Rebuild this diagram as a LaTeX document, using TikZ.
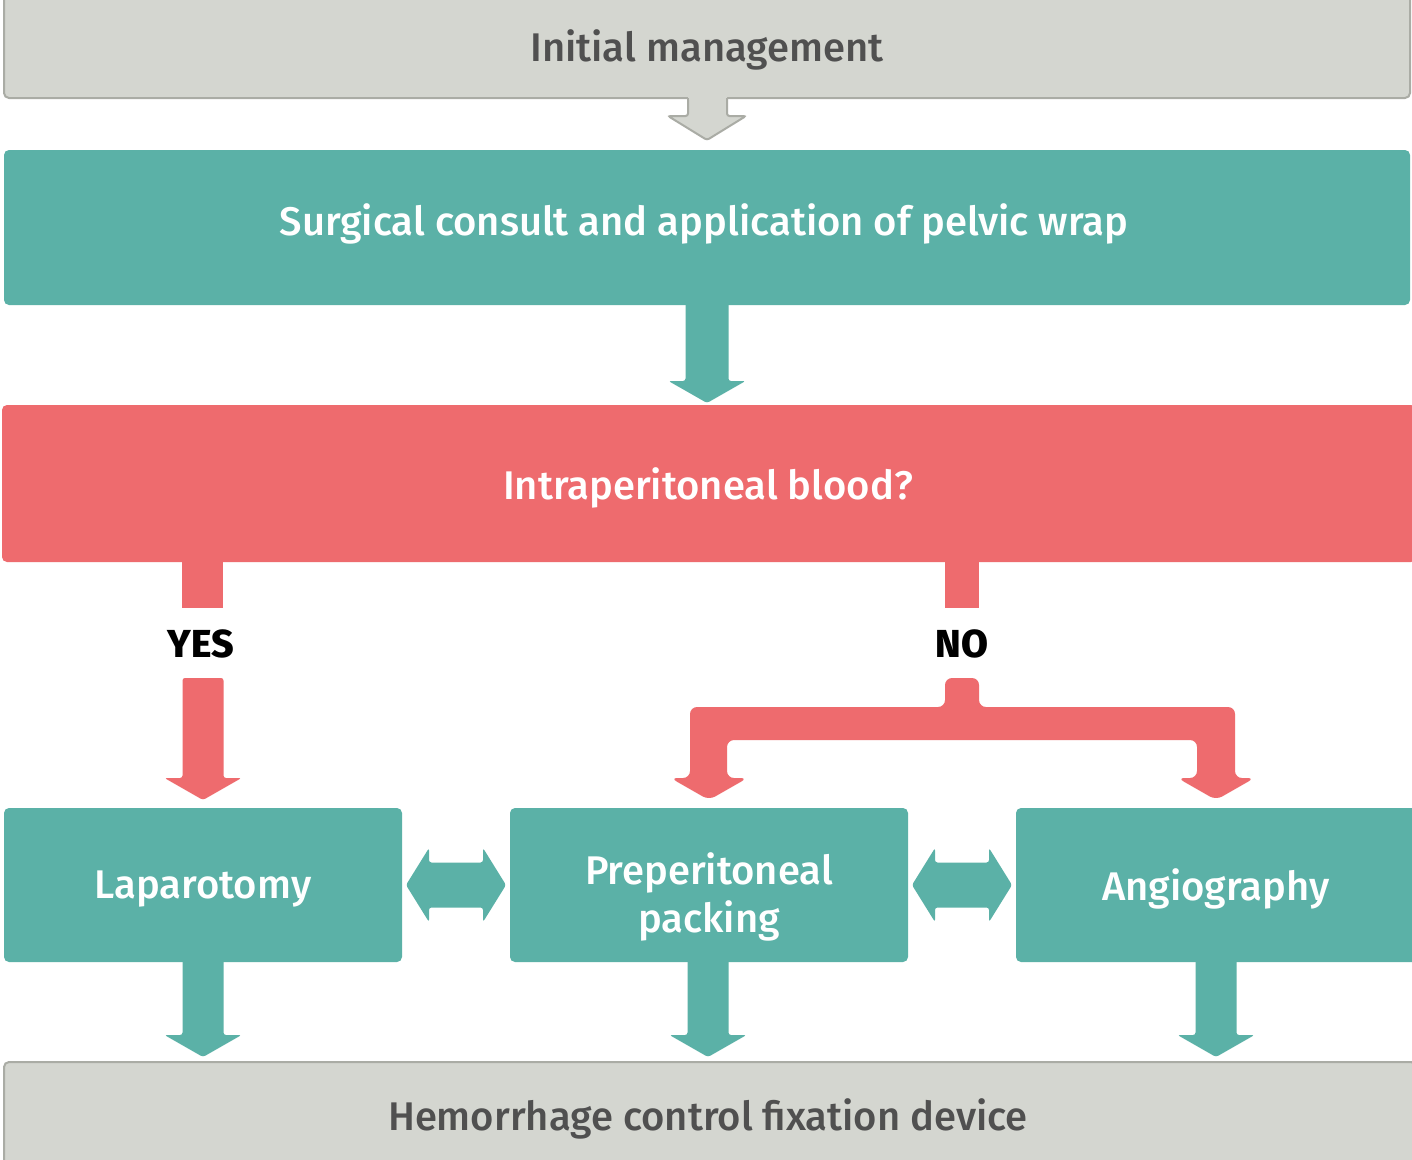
\documentclass[tikz,border=0pt]{standalone}
\usepackage{fontspec}
\setmainfont{Fira Sans}[UprightFont={* Medium}]
\definecolor{cteal}{HTML}{5BB1A7}
\definecolor{cred}{HTML}{EE6B6E}
\definecolor{cgray}{HTML}{D4D6D0}
\definecolor{cgrayd}{HTML}{AAACA5}
\definecolor{ctext}{HTML}{505050}
\tikzset{
  box/.style={rounded corners=5pt, inner sep=0pt, align=center, font=\fontsize{40}{48}\selectfont},
  graybox/.style={box, fill=cgray, draw=cgrayd, line width=2pt, text=ctext},
  tealbox/.style={box, fill=cteal, text=white},
  redbox/.style={box, fill=cred, text=white},
  lbl/.style={font=\fontsize{39}{44}\selectfont\bfseries, text=black},
  fat/.style={rounded corners=2.5pt}
}
\newcommand\fatdown[5]{% style, x, y1, y2(tip), stem half width
  \fill[fat,#1] ({#2-#5},#3) -- ({#2-#5},{#4-22}) -- ({#2-38.5},{#4-22}) -- (#2,#4)
    -- ({#2+38.5},{#4-22}) -- ({#2+#5},{#4-22}) -- ({#2+#5},#3) -- cycle;}
\newcommand\dblarrow[2]{% x center, y center
  \fill[fat,cteal] ({#1-50},#2) -- ({#1-27},{#2-37}) -- ({#1-27},{#2-22.5}) -- ({#1+27},{#2-22.5})
    -- ({#1+27},{#2-37}) -- ({#1+50},#2) -- ({#1+27},{#2+37}) -- ({#1+27},{#2+22.5})
    -- ({#1-27},{#2+22.5}) -- ({#1-27},{#2+37}) -- cycle;}
\begin{document}
\begin{tikzpicture}[x=1pt,y=-1pt]
\useasboundingbox (0,0) rectangle (1412,1159);
\clip (0,0) rectangle (1412,1159);
\fill[white] (0,0) rectangle (1412,1159);

% boxes
\node[graybox, minimum width=1406pt, minimum height=104pt] (init) at (707,46) {};
\node[text=ctext, font=\fontsize{40}{48}\selectfont] (initt) at (707,50) {Initial management};
\node[tealbox, minimum width=1406pt, minimum height=155pt] (surg) at (707,227.5) {};
\node[text=white, font=\fontsize{40}{48}\selectfont] (surgt) at (704,224) {Surgical consult and application of pelvic wrap};
\node[redbox, minimum width=1414pt, minimum height=157pt] (intra) at (709,483.5) {};
\node[text=white, font=\fontsize{40}{48}\selectfont] (intrat) at (708,488) {Intraperitoneal blood?};
\node[tealbox, minimum width=398pt, minimum height=154pt] (lap) at (203,885) {};
\node[text=white, font=\fontsize{40}{48}\selectfont] (lapt) at (203,889) {Laparotomy};
\node[tealbox, minimum width=398pt, minimum height=154pt] (prep) at (709,885) {};
\node[text=white, font=\fontsize{40}{48}\selectfont, align=center] (prept) at (709,897) {Preperitoneal\\packing};
\node[tealbox, minimum width=404pt, minimum height=154pt] (angio) at (1218,885) {};
\node[text=white, font=\fontsize{40}{48}\selectfont] (angiot) at (1216,889) {Angiography};
\node[graybox, minimum width=1412pt, minimum height=113pt] (hem) at (710,1118.5) {};
\node[text=ctext, font=\fontsize{40}{48}\selectfont] (hemt) at (708,1119) {Hemorrhage control fixation device};

% gray arrow from init
\fill[fat,cgray] (688,95) -- (688,116) -- (668,116) -- (707,140) -- (746,116) -- (727,116) -- (727,95) -- cycle;
\draw[fat,cgrayd,line width=2pt] (688,98) -- (688,116) -- (668,116) -- (707,140) -- (746,116) -- (727,116) -- (727,98);
\fill[cgray] (689,93) rectangle (726,100);

% teal arrow to intra
\fatdown{cteal}{707}{300}{403}{21.5}

% YES branch
\fill[cred] (182,555) rectangle (223,608);
\node[lbl] (yes) at (201,644) {YES};
\fatdown{cred}{203}{678}{800}{20.5}

% NO branch
\fill[cred] (945,555) rectangle (979,608);
\node[lbl] (no) at (962,644) {NO};
\fill[rounded corners=7pt,cred] (945,678) -- (945,707) -- (690,707) -- (690,778) -- (670.5,778) -- (709,800)
  -- (747.5,778) -- (727,778) -- (727,740) -- (1197,740) -- (1197,778) -- (1177.5,778) -- (1216,800)
  -- (1254.5,778) -- (1235,778) -- (1235,707) -- (979,707) -- (979,678) -- cycle;

% double arrows
\dblarrow{456}{885}
\dblarrow{962}{885}

% down arrows to hem
\fatdown{cteal}{203}{955}{1057}{20.5}
\fatdown{cteal}{708}{955}{1057}{20.5}
\fatdown{cteal}{1216}{955}{1057}{20.5}
\end{tikzpicture}
\end{document}
